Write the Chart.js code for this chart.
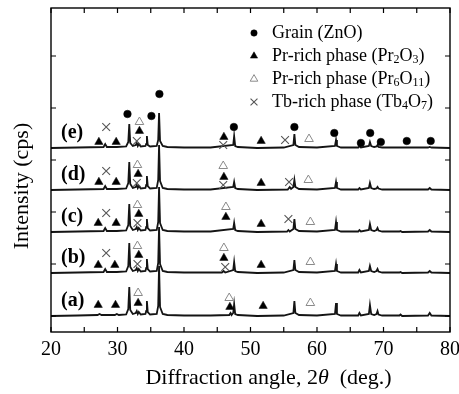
<!DOCTYPE html>
<html>
<head>
<meta charset="utf-8">
<script src="https://cdn.jsdelivr.net/npm/chart.js@4.4.1/dist/chart.umd.min.js"></script>
<style>
  html, body { margin: 0; padding: 0; background: #fff; }
</style>
</head>
<body>
<canvas id="xrd" width="459" height="394"></canvas>
<script>
// pattern names and their vertical offsets (stacked plot)
const patternNames = ['(a)', '(b)', '(c)', '(d)', '(e)'];
const patternOffsets = [0, 43, 84, 126, 168];

// [2theta, intensity above own baseline]
const patternA = [[20,0],[24,0.5],[27.0,1],[27.3,2],[27.6,1],[29.6,1],[29.9,2],[30.2,1],[31.3,1.5],[31.62,7],[31.77,29],[31.92,6],[32.3,2],[32.75,3],[32.9,5],[33.05,2],[33.2,4],[33.5,1.5],[34.2,2],[34.32,5],[34.42,15],[34.55,4],[34.9,1.5],[35.9,2],[36.12,10],[36.25,50],[36.4,9],[36.8,2],[37.5,1],[40,0.5],[44,0.5],[46.8,1],[47.0,3],[47.15,1],[47.4,3],[47.54,12],[47.7,2],[48.1,1],[51,0],[55,0.5],[56.45,3],[56.6,15],[56.75,3],[57.3,1],[60,0.5],[62.7,2],[62.86,13],[63.0,2],[63.6,0.5],[66.2,0.5],[66.38,3],[66.6,0.5],[67.8,2],[67.96,11],[68.15,2],[68.6,1],[68.95,2],[69.1,5],[69.25,1.5],[69.8,0.5],[72.4,0.5],[72.56,1.5],[72.8,0],[76.7,0.5],[76.95,3],[77.2,0.5],[80,0]];
const patternB = [[20,0],[24,0.5],[27.9,1],[28.15,4],[28.4,1],[29.9,1],[31.3,1.5],[31.62,7],[31.77,30],[31.92,6],[32.3,2],[32.75,3],[32.9,5],[33.05,2],[33.2,4],[33.5,1.5],[34.2,2],[34.32,5],[34.42,14],[34.55,4],[34.9,1.5],[35.9,2],[36.12,10],[36.25,46],[36.4,9],[36.8,2],[37.5,1],[40,0.5],[44,0.5],[45.7,0.5],[45.95,2],[46.2,0.5],[47.4,3],[47.54,11],[47.7,2],[48.1,1],[51,0],[55,0.5],[56.45,3],[56.6,13],[56.75,3],[57.3,1],[60,0.5],[62.7,2],[62.86,9],[63.0,2],[63.6,0.5],[66.2,0.5],[66.38,3],[66.6,0.5],[67.8,2],[67.96,7],[68.15,2],[68.6,1],[68.95,2],[69.1,4],[69.25,1.5],[69.8,0.5],[72.4,0.5],[72.56,1],[72.8,0],[76.7,0.5],[76.95,2],[77.2,0.5],[80,0]];
const patternC = [[20,0],[24,0.5],[27.9,1],[28.15,4],[28.4,1],[29.9,1],[31.3,1.5],[31.62,7],[31.77,28],[31.92,6],[32.3,2],[32.75,3],[32.9,5],[33.05,2],[33.2,4],[33.5,1.5],[34.2,2],[34.32,5],[34.42,13],[34.55,4],[34.9,1.5],[35.9,2],[36.12,10],[36.25,45],[36.4,9],[36.8,2],[37.5,1],[40,0.5],[44,0.5],[47.4,3],[47.54,9],[47.7,2],[48.1,1],[51,0],[55.5,0.5],[55.7,2],[55.9,0.5],[56.45,3],[56.6,13],[56.75,3],[57.3,1],[60,0.5],[62.7,2],[62.86,10],[63.0,2],[63.6,0.5],[66.2,0.5],[66.38,2],[66.6,0.5],[67.8,2],[67.96,8],[68.15,2],[68.6,1],[68.95,2],[69.1,4],[69.25,1.5],[69.8,0.5],[72.4,0.5],[72.56,1],[72.8,0],[76.7,0.5],[76.95,2],[77.2,0.5],[80,0]];
const patternD = [[20,0],[24,0.5],[27.9,1],[28.15,4],[28.4,1],[29.9,1],[31.3,1.5],[31.62,7],[31.77,28],[31.92,6],[32.3,2],[32.75,3],[32.9,5],[33.05,2],[33.2,4],[33.5,1.5],[34.2,2],[34.32,5],[34.42,14],[34.55,4],[34.9,1.5],[35.9,2],[36.12,10],[36.25,45],[36.4,9],[36.8,2],[37.5,1],[40,0.5],[44,0.5],[47.4,3],[47.54,8],[47.7,2],[48.1,1],[51,0],[55.6,0.5],[55.9,3],[56.1,1],[56.45,3],[56.6,10],[56.75,3],[57.3,1],[60,0.5],[62.7,2],[62.86,8],[63.0,2],[63.6,0.5],[66.2,0.5],[66.38,2],[66.6,0.5],[67.8,2],[67.96,7],[68.15,2],[68.6,1],[68.95,1.5],[69.1,3],[69.25,1.5],[69.8,0.5],[76.7,0.5],[76.95,2],[77.2,0.5],[80,0]];
const patternE = [[20,0],[24,0.5],[27.9,1],[28.15,4],[28.4,1],[29.9,1],[31.3,1.5],[31.62,6],[31.77,24],[31.92,5],[32.3,2],[32.75,3],[32.9,5],[33.05,2],[33.2,4],[33.5,1.5],[34.2,2],[34.32,4],[34.42,12],[34.55,3],[34.9,1.5],[35.9,2],[36.12,8],[36.25,35],[36.4,7],[36.8,2],[37.5,1],[40,0.5],[44,0.5],[47.4,3],[47.54,12],[47.7,2],[48.1,1],[51,0],[55,0.5],[56.45,3],[56.6,14],[56.75,3],[57.3,1],[60,0.5],[62.7,2],[62.86,8],[63.0,2],[63.6,0.5],[66.2,0.5],[66.38,2],[66.6,0.5],[67.8,2],[67.96,6],[68.15,2],[68.6,1],[68.95,1.5],[69.1,3],[69.25,1],[69.8,0.5],[76.7,0.5],[76.95,1],[77.2,0.5],[80,0]];

// phase markers [2theta, y] (y on the stacked scale)
const grainZnO = [[31.5,202],[35.1,200],[36.3,222],[47.5,189],[56.6,189],[62.6,183],[66.6,173],[68.0,183],[69.6,174],[73.5,175],[77.1,175]];
const prRichPr2O3 = [
  [27.2,174],[29.8,174],[33.3,185],[46.0,179],[51.6,175],
  [27.2,134],[29.8,134],[33.1,142],[46.0,139],[51.6,133],
  [27.1,93],[29.8,93],[33.2,102],[46.3,99],[51.6,92],
  [27.1,51],[29.6,51],[33.2,61],[46.0,58],[51.6,51],
  [27.1,11],[29.7,11],[33.1,13],[46.9,9],[51.9,10]
];
const prRichPr6O11 = [
  [33.3,194],[58.8,177],
  [33.0,151],[45.9,150],[58.7,136],
  [33.0,111],[46.3,109],[59.0,94],
  [33.0,70],[46.0,68],[59.0,54],
  [33.1,23],[46.8,18],[59.0,13]
];
const tbRichTb4O7 = [
  [28.3,189],[32.9,175],[45.9,171],[55.2,176],
  [28.3,145],[32.9,133],[45.9,131],[55.8,134],
  [28.3,103],[33.0,93],[55.7,97],
  [28.3,63],[33.0,52],[46.2,49]
];

// legend text pieces: [text, isSubscript]
const legendLabels = [
  [['Grain (ZnO)', false]],
  [['Pr-rich phase (Pr', false], ['2', true], ['O', false], ['3', true], [')', false]],
  [['Pr-rich phase (Pr', false], ['6', true], ['O', false], ['11', true], [')', false]],
  [['Tb-rich phase (Tb', false], ['4', true], ['O', false], ['7', true], [')', false]]
];

const SERIF = '"Liberation Serif", "Times New Roman", serif';
const patterns = [patternA, patternB, patternC, patternD, patternE];

const toXY = arr => arr.map(([x, y]) => ({ x, y }));

const datasets = patterns.map((p, i) => ({
  label: patternNames[i],
  data: p.map(([x, y]) => ({ x, y: y + patternOffsets[i] })),
  showLine: true,
  borderColor: '#141414',
  borderWidth: 1.8,
  pointRadius: 0,
  tension: 0,
  order: 2
}));

const markerSets = [
  { label: 'Grain (ZnO)', data: toXY(grainZnO), pointStyle: 'circle', pointRadius: 3.8,
    backgroundColor: '#000', borderColor: '#000', borderWidth: 0.5 },
  { label: 'Pr2O3', data: toXY(prRichPr2O3), pointStyle: 'triangle', pointRadius: 4.8,
    backgroundColor: '#000', borderColor: '#000', borderWidth: 0.5 },
  { label: 'Pr6O11', data: toXY(prRichPr6O11), pointStyle: 'triangle', pointRadius: 5,
    backgroundColor: '#fff', borderColor: '#8a8a8a', borderWidth: 1 },
  { label: 'Tb4O7', data: toXY(tbRichTb4O7), pointStyle: 'crossRot', pointRadius: 5.5,
    backgroundColor: '#555', borderColor: '#555', borderWidth: 1.1 }
];
markerSets.forEach(m => { m.showLine = false; m.order = 1; m.pointHoverRadius = m.pointRadius; datasets.push(m); });

function drawRich(ctx, parts, x, y, size) {
  let cx = x;
  parts.forEach(([t, sub]) => {
    ctx.font = (sub ? Math.round(size * 0.68) : size) + 'px ' + SERIF;
    ctx.fillText(t, cx, sub ? y + size * 0.22 : y);
    cx += ctx.measureText(t).width;
  });
}

// frame, inward ticks on all four sides, titles, pattern labels and legend
const decorPlugin = {
  id: 'decor',
  afterDraw(chart) {
    const ctx = chart.ctx;
    const a = chart.chartArea;
    const xs = chart.scales.x, ys = chart.scales.y;
    ctx.save();
    ctx.strokeStyle = '#000';
    ctx.lineWidth = 1.4;
    ctx.strokeRect(a.left, a.top, a.right - a.left, a.bottom - a.top);

    ctx.lineWidth = 1.2;
    ctx.beginPath();
    xs.ticks.forEach(t => {
      const px = xs.getPixelForValue(t.value);
      ctx.moveTo(px, a.bottom); ctx.lineTo(px, a.bottom - 5);
      ctx.moveTo(px, a.top); ctx.lineTo(px, a.top + 5);
    });
    ys.ticks.forEach(t => {
      if (t.value % 52 !== 0) return;
      const py = ys.getPixelForValue(t.value);
      ctx.moveTo(a.left, py); ctx.lineTo(a.left + 5, py);
      ctx.moveTo(a.right, py); ctx.lineTo(a.right - 5, py);
    });
    ctx.stroke();

    ctx.fillStyle = '#000';
    // pattern labels
    ctx.font = 'bold 20px ' + SERIF;
    ctx.textAlign = 'left';
    ctx.textBaseline = 'middle';
    patternNames.forEach((n, i) => {
      ctx.fillText(n, xs.getPixelForValue(21.5), ys.getPixelForValue(patternOffsets[i] + 15));
    });

    // x title with italic theta
    const xParts = [['Diffraction angle, 2', ''], ['\u03B8', 'italic '], ['  (deg.)', '']];
    let w = 0;
    xParts.forEach(([t, st]) => { ctx.font = st + '22px ' + SERIF; w += ctx.measureText(t).width; });
    let cx = (a.left + a.right) / 2 + 18 - w / 2;
    xParts.forEach(([t, st]) => { ctx.font = st + '22px ' + SERIF; ctx.fillText(t, cx, a.bottom + 46); cx += ctx.measureText(t).width; });

    // y title
    ctx.save();
    ctx.translate(22, (a.top + a.bottom) / 2 + 16);
    ctx.rotate(-Math.PI / 2);
    ctx.textAlign = 'center';
    ctx.font = '22px ' + SERIF;
    ctx.fillText('Intensity (cps)', 0, 0);
    ctx.restore();

    // legend
    const mx = a.right - 196, tx = a.right - 178;
    legendLabels.forEach((parts, i) => {
      const y = a.top + 25 + i * 23;
      const ds = markerSets[i];
      ctx.fillStyle = ds.backgroundColor;
      ctx.strokeStyle = ds.borderColor;
      ctx.lineWidth = ds.borderWidth;
      Chart.helpers.drawPoint(ctx, { pointStyle: ds.pointStyle, radius: ds.pointRadius - 0.6, borderWidth: ds.borderWidth, rotation: 0 }, mx, y);
      ctx.fillStyle = '#000';
      ctx.textAlign = 'left';
      ctx.textBaseline = 'middle';
      drawRich(ctx, parts, tx, y, 18);
    });
    ctx.restore();
  }
};

new Chart(document.getElementById('xrd'), {
  type: 'scatter',
  data: { datasets },
  options: {
    responsive: false,
    animation: false,
    layout: { padding: { left: 0, top: 8, right: 9, bottom: 0 } },
    plugins: { legend: { display: false }, tooltip: { enabled: false } },
    scales: {
      x: {
        type: 'linear',
        min: 20,
        max: 80,
        grid: { display: false, drawTicks: false },
        border: { display: false },
        ticks: {
          stepSize: 5,
          autoSkip: false,
          maxRotation: 0,
          padding: 6,
          color: '#000',
          font: { family: SERIF, size: 20 },
          callback: v => (v % 10 === 0 ? v : '')
        },
        // the "80" label may run past the plot edge, as in the original
        afterFit: s => { s.height = 62; s.paddingRight = 0; s.paddingLeft = 0; }
      },
      y: {
        type: 'linear',
        min: -16,
        max: 308,
        grid: { display: false, drawTicks: false },
        border: { display: false },
        ticks: { stepSize: 52, display: false },
        afterFit: s => { s.width = 51; }
      }
    }
  },
  plugins: [decorPlugin]
});
</script>
</body>
</html>
